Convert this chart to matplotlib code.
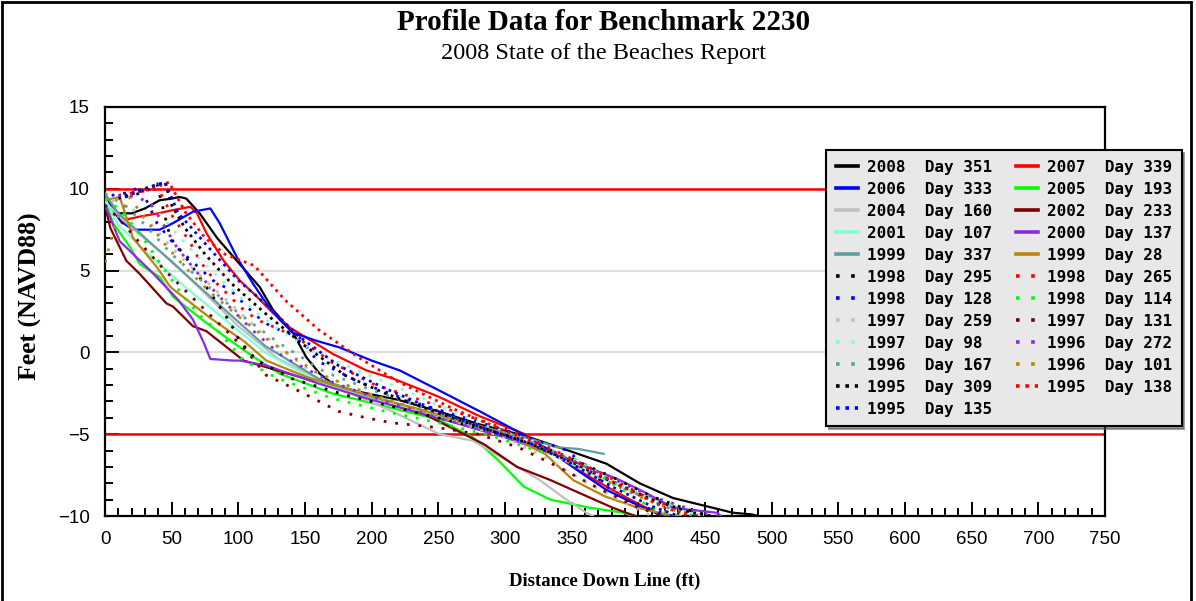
import matplotlib
matplotlib.use('Agg')
import matplotlib.pyplot as plt
from matplotlib.patches import Rectangle
from matplotlib.ticker import MultipleLocator


# survey labels, in the order the legend reads them (row by row)
years = [2008, 2007, 2006, 2005, 2004, 2002, 2001, 2000, 1999, 1999,
         1998, 1998, 1998, 1998, 1997, 1997, 1997, 1996, 1996, 1996,
         1995, 1995, 1995]
days = [351, 339, 333, 193, 160, 233, 107, 137, 337, 28,
        295, 265, 128, 114, 259, 131, 98, 272, 167, 101,
        309, 138, 135]

# profile readings: distance down line (ft) / elevation (ft NAVD88)
dist_2008_351 = [0, 4, 10, 20, 30, 41, 50, 56, 61, 71, 84, 101, 116, 126, 141, 151, 161, 172, 190,
                 220, 250, 281, 315, 344, 376, 401, 426, 451, 471, 485, 490]
elev_2008_351 = [9.6, 8.9, 8.5, 8.5, 8.8, 9.3, 9.4, 9.5, 9.4, 8.5, 7.0, 5.4, 4.0, 2.6, 1.2, -0.3, -1.3, -2.0, -2.4,
                 -2.9, -3.6, -4.4, -5.1, -5.9, -6.8, -8.0, -8.9, -9.4, -9.8, -9.9, -10.0]

dist_2007_339 = [0, 5, 15, 26, 40, 51, 64, 69, 76, 89, 101, 114, 126, 139, 151, 171, 196, 216, 250,
                 281, 315, 351, 376, 394, 411, 420]
elev_2007_339 = [9.6, 8.9, 8.1, 8.3, 8.5, 8.7, 8.9, 8.5, 7.3, 5.6, 4.4, 3.4, 2.4, 1.5, 0.9, -0.1, -1.1, -1.6, -2.7,
                 -3.9, -5.0, -7.0, -8.2, -9.0, -9.7, -10.0]

dist_2006_333 = [0, 5, 12, 21, 30, 41, 51, 66, 79, 86, 99, 111, 121, 131, 141, 159, 176, 200, 221,
                 250, 281, 311, 334, 356, 376, 396, 410, 418]
elev_2006_333 = [9.5, 8.8, 8.0, 7.5, 7.5, 7.5, 7.9, 8.6, 8.8, 7.9, 5.8, 4.2, 3.0, 2.0, 1.2, 0.7, 0.3, -0.5, -1.1,
                 -2.3, -3.6, -4.9, -6.0, -7.3, -8.4, -9.2, -9.7, -10.0]

dist_2005_193 = [0, 6, 19, 26, 41, 51, 76, 91, 110, 131, 170, 210, 250, 276, 295, 314, 334, 364, 389, 396]
elev_2005_193 = [9.3, 7.9, 6.4, 5.4, 4.6, 3.4, 1.8, 0.9, -0.2, -1.3, -2.5, -3.3, -4.1, -5.2, -6.6, -8.2, -9.0,
                 -9.5, -9.8, -10.0]

dist_2004_160 = [0, 10, 20, 35, 50, 70, 100, 130, 170, 210, 251, 276, 301, 326, 346, 361, 366]
elev_2004_160 = [9.2, 8.4, 7.6, 6.6, 5.6, 4.0, 1.6, -0.4, -2.0, -3.4, -5.0, -5.4, -6.6, -7.8, -9.0, -9.8, -10.0]

dist_2002_233 = [0, 4, 16, 26, 46, 51, 66, 76, 104, 146, 190, 240, 284, 309, 334, 356, 381, 391, 398]
elev_2002_233 = [9.0, 7.6, 5.6, 4.8, 3.0, 2.8, 1.6, 1.3, -0.5, -1.5, -2.6, -3.8, -5.6, -7.0, -7.8, -8.6, -9.5,
                 -9.8, -10.0]

dist_2001_107 = [0, 10, 30, 60, 90, 120, 160, 200, 250, 300, 330, 364, 395, 421, 440, 448]
elev_2001_107 = [9.4, 7.8, 6.2, 4.0, 2.0, 0.0, -1.8, -2.8, -3.9, -5.0, -6.0, -7.4, -8.5, -9.2, -9.8, -10.0]

dist_2000_137 = [0, 11, 34, 55, 66, 74, 79, 96, 101, 121, 160, 200, 250, 300, 340, 386, 406, 426, 459, 462]
elev_2000_137 = [9.0, 6.8, 5.0, 3.2, 2.0, 0.6, -0.4, -0.5, -0.5, -0.8, -1.9, -2.9, -4.0, -5.2, -6.3, -7.8, -8.6,
                 -9.5, -9.8, -10.0]

dist_1999_337 = [0, 10, 30, 60, 90, 120, 160, 200, 250, 290, 320, 339, 355, 374]
elev_1999_337 = [9.7, 8.5, 7.0, 4.8, 2.6, 0.4, -1.6, -2.7, -3.8, -4.7, -5.3, -5.8, -5.9, -6.2]

dist_1999_28 = [0, 11, 21, 39, 49, 79, 104, 121, 151, 200, 250, 300, 330, 351, 375, 400, 420, 432]
elev_1999_28 = [9.3, 9.5, 7.0, 5.2, 4.0, 2.1, 0.7, -0.5, -1.5, -2.7, -3.8, -5.0, -6.2, -7.8, -8.8, -9.5, -9.9, -10.0]

dist_1998_295 = [15, 30, 39, 49, 59, 76, 86, 94, 101, 114, 140, 180, 230, 280, 320, 350, 380, 410, 440, 455]
elev_1998_295 = [9.5, 9.8, 10.3, 7.0, 6.0, 4.0, 2.8, 1.8, 0.7, -0.5, -1.6, -2.6, -3.6, -4.6, -5.5, -6.5, -7.6,
                 -8.8, -9.7, -10.0]

dist_1998_265 = [10, 25, 40, 50, 64, 71, 84, 94, 101, 114, 131, 146, 170, 200, 240, 280, 315, 345, 375, 405, 430, 445]
elev_1998_265 = [9.6, 9.8, 10.0, 8.4, 6.7, 5.6, 4.2, 3.4, 2.8, 2.0, 1.4, 0.8, -0.6, -1.9, -3.0, -4.1, -5.1, -6.3,
                 -7.5, -8.8, -9.7, -10.0]

dist_1998_128 = [5, 20, 26, 39, 54, 81, 94, 104, 114, 124, 146, 159, 190, 230, 270, 310, 347, 386, 410, 425]
elev_1998_128 = [9.6, 9.8, 10.2, 7.9, 6.4, 4.4, 3.8, 3.0, 2.2, 1.6, 0.9, -0.5, -1.8, -3.0, -4.0, -5.0, -6.0, -8.9,
                 -9.6, -10.0]

dist_1998_114 = [0, 10, 25, 40, 59, 72, 86, 104, 130, 170, 210, 250, 290, 320, 356, 380, 410, 430]
elev_1998_114 = [9.4, 8.8, 7.4, 5.6, 3.4, 2.2, 1.2, -0.5, -1.6, -2.8, -3.6, -4.3, -5.1, -5.9, -6.6, -8.0, -9.5, -10.0]

dist_1997_259 = [5, 20, 35, 50, 70, 95, 120, 150, 190, 230, 270, 300, 330, 360, 390, 410]
elev_1997_259 = [9.3, 8.8, 7.8, 6.4, 4.8, 2.9, 1.0, -0.9, -2.3, -3.4, -4.4, -5.2, -6.4, -7.9, -9.2, -10.0]

dist_1997_131 = [0, 10, 25, 45, 65, 85, 105, 121, 139, 156, 175, 196, 215, 250, 280, 310, 340, 370, 400, 420]
elev_1997_131 = [9.0, 8.2, 6.8, 5.0, 3.4, 1.8, 0.2, -1.4, -2.1, -2.8, -3.6, -4.0, -4.3, -4.6, -5.0, -5.8, -7.0,
                 -8.3, -9.5, -10.0]

dist_1997_98 = [20, 35, 50, 70, 90, 101, 111, 130, 160, 201, 230, 260, 290, 320, 350, 380, 410, 435, 450]
elev_1997_98 = [9.8, 9.0, 7.6, 5.8, 4.2, 3.4, 2.6, 1.4, -0.1, -1.5, -2.5, -3.6, -4.6, -5.4, -6.5, -7.8, -9.0,
                -9.8, -10.0]

dist_1996_272 = [10, 25, 36, 54, 70, 86, 110, 134, 170, 210, 250, 290, 320, 350, 380, 410, 440, 460]
elev_1996_272 = [9.6, 9.5, 8.9, 6.4, 4.8, 3.4, 1.4, -0.3, -1.8, -3.0, -4.0, -4.9, -5.6, -6.6, -7.7, -8.8, -9.6, -10.0]

dist_1996_167 = [0, 15, 30, 50, 75, 100, 130, 165, 200, 240, 280, 310, 340, 370, 400, 425, 440]
elev_1996_167 = [9.7, 9.0, 7.8, 6.0, 4.2, 2.4, 0.6, -1.2, -2.3, -3.4, -4.5, -5.2, -6.2, -7.4, -8.7, -9.6, -10.0]

dist_1996_101 = [0, 3, 8, 18, 30, 45, 60, 80, 100, 125, 160, 200, 240, 280, 310, 340, 370, 400, 425, 440]
elev_1996_101 = [5.5, 6.4, 8.0, 9.5, 8.2, 6.6, 5.2, 3.6, 2.2, 0.6, -1.3, -2.6, -3.6, -4.6, -5.3, -6.4, -7.6, -8.8,
                 -9.6, -10.0]

dist_1995_309 = [10, 25, 45, 50, 60, 75, 95, 120, 150, 180, 210, 250, 290, 320, 350, 380, 410, 440, 455]
elev_1995_309 = [9.4, 9.9, 10.4, 9.0, 7.6, 6.0, 4.2, 2.4, 0.4, -1.4, -2.5, -3.7, -4.8, -5.6, -6.7, -7.9, -9.0,
                 -9.8, -10.0]

dist_1995_138 = [20, 35, 48, 60, 75, 90, 112, 135, 160, 190, 220, 260, 300, 330, 360, 390, 420, 440]
elev_1995_138 = [9.7, 10.0, 10.4, 8.6, 7.0, 6.0, 5.3, 3.2, 1.4, -0.3, -1.8, -3.4, -4.8, -5.8, -7.0, -8.3, -9.5, -10.0]

dist_1995_135 = [15, 30, 45, 55, 65, 80, 100, 120, 145, 175, 210, 250, 290, 320, 350, 380, 410, 430]
elev_1995_135 = [9.5, 10.0, 10.4, 8.5, 7.6, 6.2, 4.4, 3.0, 1.0, -0.8, -2.2, -3.6, -4.8, -5.6, -6.8, -8.2, -9.4, -10.0]

distances = [dist_2008_351, dist_2007_339, dist_2006_333, dist_2005_193, dist_2004_160,
             dist_2002_233, dist_2001_107, dist_2000_137, dist_1999_337, dist_1999_28,
             dist_1998_295, dist_1998_265, dist_1998_128, dist_1998_114, dist_1997_259,
             dist_1997_131, dist_1997_98, dist_1996_272, dist_1996_167, dist_1996_101,
             dist_1995_309, dist_1995_138, dist_1995_135]
elevations = [elev_2008_351, elev_2007_339, elev_2006_333, elev_2005_193, elev_2004_160,
              elev_2002_233, elev_2001_107, elev_2000_137, elev_1999_337, elev_1999_28,
              elev_1998_295, elev_1998_265, elev_1998_128, elev_1998_114, elev_1997_259,
              elev_1997_131, elev_1997_98, elev_1996_272, elev_1996_167, elev_1996_101,
              elev_1995_309, elev_1995_138, elev_1995_135]

palette = ['#000000', '#ff0000', '#0000ff', '#00ff00', '#c0c0c0',
           '#800000', '#7fffd4', '#8a2be2', '#5f9ea0', '#b8860b']

SOLID = '-'
DOTS = (0, (1, 3.2))
DENSE = (0, (1, 1.6))


def main():
    fig = plt.figure(figsize=(11.96, 6.01), dpi=100)
    ax = fig.add_axes([0.0878, 0.1414, 0.8361, 0.6806])

    handles = []
    for i, (x, y) in enumerate(zip(distances, elevations)):
        if i < 10:
            ls, lw = SOLID, 1.6
        elif i < 20:
            ls, lw = DOTS, 2.0
        else:
            ls, lw = DENSE, 2.0
        line, = ax.plot(x, y, color=palette[i % 10], linestyle=ls, lw=lw,
                        label='%d  Day %d' % (years[i], days[i]), zorder=3)
        handles.append(line)

    ax.axhline(10, color='#ff0000', lw=1.8, zorder=2)
    ax.axhline(-5, color='#ff0000', lw=1.8, zorder=2)

    ax.set_xlim(0, 750)
    ax.set_ylim(-10, 15)
    ax.xaxis.set_major_locator(MultipleLocator(50))
    ax.xaxis.set_minor_locator(MultipleLocator(10))
    ax.yaxis.set_major_locator(MultipleLocator(5))
    ax.yaxis.set_minor_locator(MultipleLocator(1))
    ax.yaxis.grid(True, which='major', color='#dddddd', lw=1.5, zorder=1)
    ax.set_axisbelow(True)

    ax.tick_params(which='both', direction='in', top=False, right=False, width=1.4)
    ax.tick_params(which='major', length=10, pad=11, labelsize=13.5)
    ax.tick_params(which='minor', length=6)
    for lab in ax.get_xticklabels() + ax.get_yticklabels():
        lab.set_family('Liberation Sans')
    for sp in ax.spines.values():
        sp.set_linewidth(1.6)

    ax.set_xlabel('Distance Down Line (ft)', family='Liberation Serif',
                  fontweight='bold', fontsize=13.5)
    ax.set_ylabel('Feet (NAVD88)', family='Liberation Serif',
                  fontweight='bold', fontsize=18.5)
    ax.xaxis.set_label_coords(0.5, -0.139)
    ax.yaxis.set_label_coords(-0.063, 0.538)

    fig.text(0.505, 0.963, 'Profile Data for Benchmark 2230', ha='center', va='center',
             family='Liberation Serif', fontweight='bold', fontsize=21)
    fig.text(0.505, 0.911, '2008 State of the Beaches Report', ha='center', va='center',
             family='Liberation Serif', fontsize=17.5)

    # legend is filled column by column, reference reads row by row
    order = list(range(0, len(handles), 2)) + list(range(1, len(handles), 2))
    leg = fig.legend([handles[k] for k in order],
                     [handles[k].get_label() for k in order],
                     loc='upper left', bbox_to_anchor=(0.6906, 0.7504), ncol=2,
                     borderaxespad=0,
                     prop={'family': 'DejaVu Sans Mono', 'weight': 'bold', 'size': 11.5},
                     handlelength=1.4, handletextpad=0.55, columnspacing=1.5,
                     labelspacing=0.44, borderpad=0.6, fancybox=False, shadow=True,
                     framealpha=1, facecolor='#e8e8e8', edgecolor='black')
    leg.get_frame().set_linewidth(1.5)
    for h in leg.legend_handles:
        h.set_linewidth(2.6)

    fig.patches.append(Rectangle((0.002, -0.01), 0.994, 1.007, transform=fig.transFigure,
                                 fill=False, ec='black', lw=2))

    fig.savefig('out.png', dpi=100)


if __name__ == '__main__':
    main()
